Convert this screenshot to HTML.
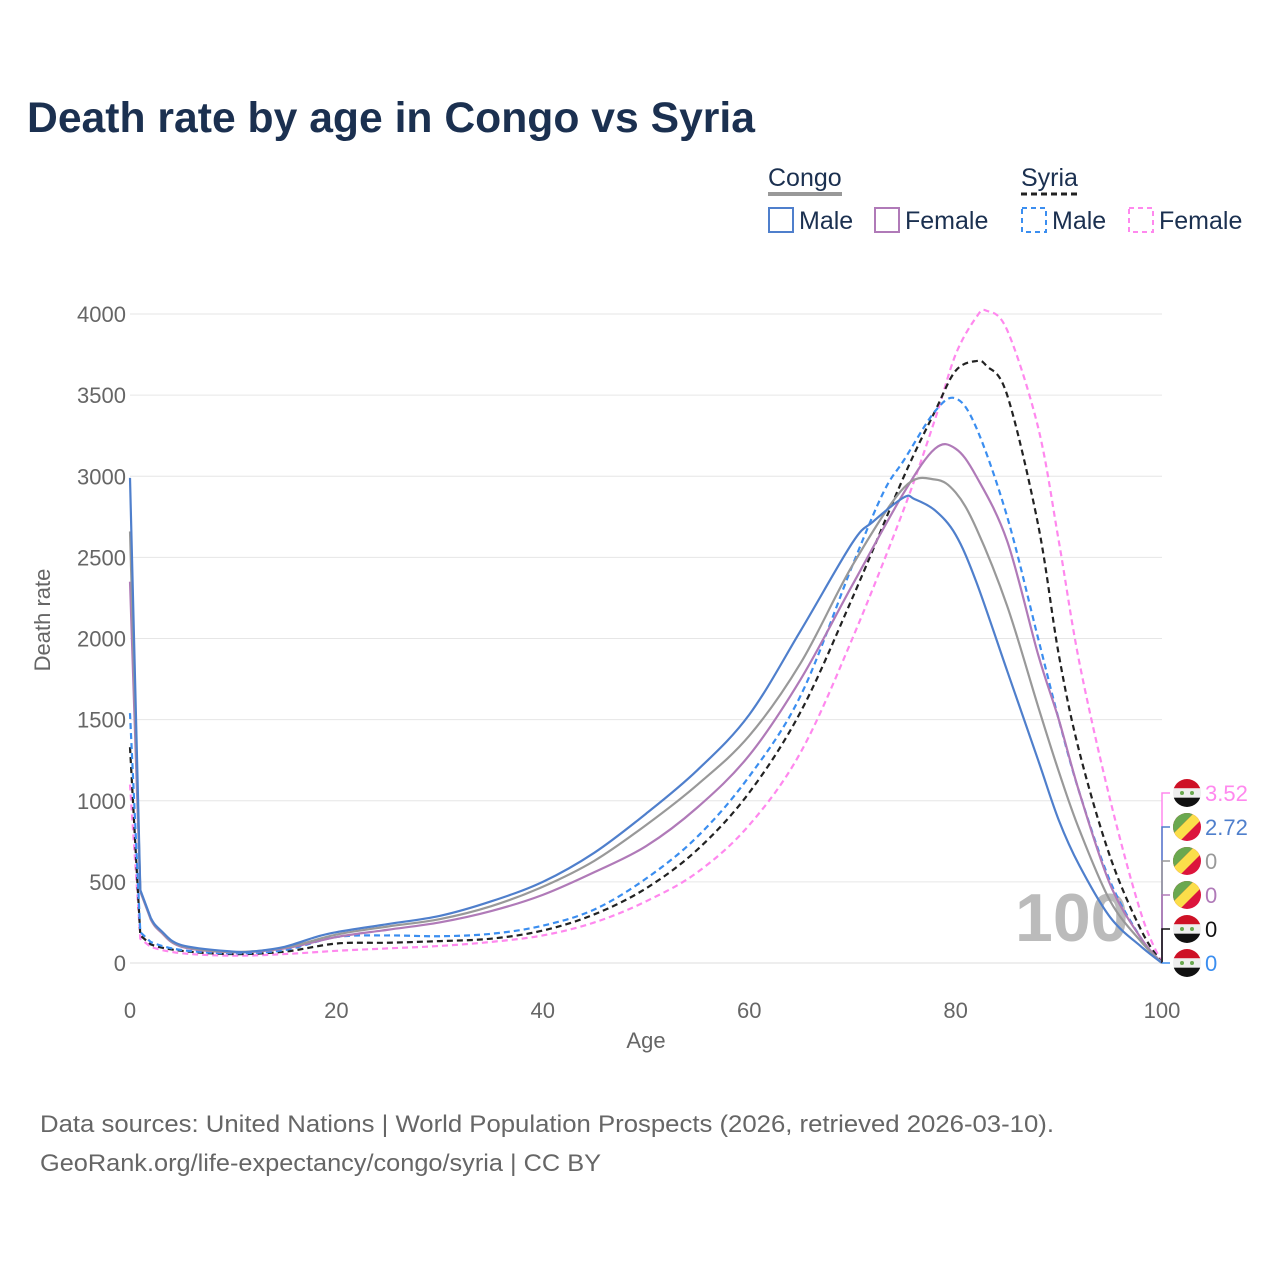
<!DOCTYPE html>
<html><head><meta charset="utf-8">
<style>
body{margin:0;background:#fff;font-family:"Liberation Sans",sans-serif;}
#wrap{position:relative;width:1280px;height:1280px;overflow:hidden;background:#fff}
</style></head>
<body>
<div id="wrap">
<svg id="chart" width="1280" height="1280" xmlns="http://www.w3.org/2000/svg">
<text x="27" y="132" font-size="43" font-weight="bold" fill="#1b3050" textLength="728" lengthAdjust="spacingAndGlyphs">Death rate by age in Congo vs Syria</text>
<g font-size="25" fill="#1b3050">
<text x="768" y="186">Congo</text>
<line x1="768" x2="842" y1="194" y2="194" stroke="#999" stroke-width="4"/>
<text x="1021" y="186">Syria</text>
<line x1="1021" x2="1078" y1="194" y2="194" stroke="#222" stroke-width="3" stroke-dasharray="6,4"/>
<rect x="769" y="208" width="24" height="24" fill="none" stroke="#4f7fcc" stroke-width="2"/>
<text x="799" y="229">Male</text>
<rect x="875" y="208" width="24" height="24" fill="none" stroke="#b07ab8" stroke-width="2"/>
<text x="905" y="229">Female</text>
<rect x="1022" y="208" width="24" height="24" fill="none" stroke="#3b8ef0" stroke-width="2" stroke-dasharray="5,4"/>
<text x="1052" y="229">Male</text>
<rect x="1129" y="208" width="24" height="24" fill="none" stroke="#ff88ee" stroke-width="2" stroke-dasharray="5,4"/>
<text x="1159" y="229">Female</text>
</g>
<g id="grid"></g>
<text x="1015" y="941" font-size="68" font-weight="bold" fill="#bbb">100</text>
<g id="lines"></g>
<g id="labels"></g>
<text x="50" y="620" font-size="22" fill="#666" transform="rotate(-90 50 620)" text-anchor="middle">Death rate</text>
<text x="646" y="1048" font-size="22" fill="#666" text-anchor="middle">Age</text>
<text x="40" y="1132" font-size="24" fill="#666" textLength="1014" lengthAdjust="spacingAndGlyphs">Data sources: United Nations | World Population Prospects (2026, retrieved 2026-03-10).</text>
<text x="40" y="1171" font-size="24" fill="#666" textLength="561" lengthAdjust="spacingAndGlyphs">GeoRank.org/life-expectancy/congo/syria | CC BY</text>
</svg>
</div>
<script>
const yTicks=[0,500,1000,1500,2000,2500,3000,3500,4000];
const xTicks=[0,20,40,60,80,100];
const congoMaleAges=[0,1,2,3,5,10,12,15,18,20,25,30,35,40,45,50,55,60,65,70,72,75,76,78,80,82,85,88,90,92,95,98,100];
const congoMale=[2990,450,280,200,110,70,72,100,160,190,240,290,380,500,680,920,1190,1530,2050,2590,2720,2870,2860,2790,2640,2350,1800,1250,880,600,280,100,0];
const congoTotalAges=[0,1,2,3,5,10,15,20,25,30,35,40,45,50,55,60,65,70,75,78,80,82,85,88,90,92,95,98,100];
const congoTotal=[2660,445,275,195,105,68,95,175,225,270,350,470,630,850,1100,1400,1850,2450,2930,2980,2900,2680,2200,1580,1180,820,380,130,0];
const congoFemaleAges=[0,1,2,3,5,10,15,20,25,30,35,40,45,50,55,60,65,70,75,78,80,82,85,88,90,92,95,98,100];
const congoFemale=[2350,440,270,190,100,66,90,160,205,250,320,420,560,720,960,1280,1750,2330,2900,3170,3170,3000,2600,1900,1500,1050,480,150,0];
const syriaMaleAges=[0,1,2,5,10,15,20,25,30,35,40,45,50,55,60,65,70,73,75,78,80,82,85,88,90,92,95,98,100];
const syriaMale=[1540,190,130,80,60,80,160,170,165,180,230,330,520,780,1150,1650,2450,2900,3100,3400,3480,3300,2750,2000,1500,1050,500,150,0];
const syriaTotalAges=[0,1,2,5,10,15,20,25,30,35,40,45,50,55,60,65,70,75,78,80,82,83,85,88,90,92,95,98,100];
const syriaTotal=[1330,170,115,75,55,70,120,125,135,150,200,300,460,700,1050,1550,2250,3000,3400,3650,3710,3680,3500,2700,1900,1300,650,200,0];
const syriaFemaleAges=[0,1,2,5,10,15,20,25,30,35,40,45,50,55,60,65,70,75,78,80,82,83,85,88,90,92,95,98,100];
const syriaFemale=[1100,150,100,60,45,55,75,90,105,130,170,250,380,560,850,1300,2000,2800,3350,3750,3980,4020,3900,3300,2600,1850,1000,300,0];
const endValues=["3.52","2.72","0","0","0","0"];

const NS="http://www.w3.org/2000/svg";
const X=a=>130+a*10.32;
const Y=v=>963-v*0.16225;
function mk(tag,attrs,parent){const e=document.createElementNS(NS,tag);for(const k in attrs)e.setAttribute(k,attrs[k]);parent.appendChild(e);return e;}
const grid=document.getElementById('grid');
yTicks.forEach(t=>{
  const l=mk('line',{x1:130,x2:1162,y1:Y(t),y2:Y(t),stroke:t===0?'#ddd':'#e6e6e6','stroke-width':1},grid);
  
  
  const tx=mk('text',{x:126,y:Y(t)+8,'font-size':22,fill:'#666','text-anchor':'end'},grid);
  tx.textContent=t;
  
  
});
xTicks.forEach(t=>{
  const tx=mk('text',{x:X(t),y:1018,'font-size':22,fill:'#666','text-anchor':'middle'},grid);
  tx.textContent=t;
  
  
});
function path(ages,vals){
  const p=ages.map((a,i)=>[X(a),Y(vals[i])]);
  let d='M'+p[0][0]+','+p[0][1];
  for(let i=0;i<p.length-1;i++){
    const p0=p[Math.max(0,i-1)],p1=p[i],p2=p[i+1],p3=p[Math.min(p.length-1,i+2)];
    const t=i<2?0:1/6;
    const c1=[p1[0]+(p2[0]-p0[0])*t,p1[1]+(p2[1]-p0[1])*t];
    const c2=[p2[0]-(p3[0]-p1[0])*t,p2[1]-(p3[1]-p1[1])*t];
    d+=' C'+c1[0]+','+c1[1]+' '+c2[0]+','+c2[1]+' '+p2[0]+','+p2[1];
  }
  return d;
}
const lines=document.getElementById('lines');
const series=[
 [syriaFemaleAges,syriaFemale,'#ff88ee','6,4','line-syria-female'],
 [syriaTotalAges,syriaTotal,'#222','6,4','line-syria-total'],
 [syriaMaleAges,syriaMale,'#3b8ef0','6,4','line-syria-male'],
 [congoFemaleAges,congoFemale,'#b07ab8','','line-congo-female'],
 [congoTotalAges,congoTotal,'#999','','line-congo-total'],
 [congoMaleAges,congoMale,'#4f7fcc','','line-congo-male']];
series.forEach(s=>{
  const e=mk('path',{d:path(s[0],s[1]),fill:'none',stroke:s[2],'stroke-width':2.2,'stroke-dasharray':s[3]},lines);
  
  
});
const labels=document.getElementById('labels');
const lab=[['#ff88ee','syria'],['#4f7fcc','congo'],['#999','congo'],['#b07ab8','congo'],['#111','syria'],['#3b8ef0','syria']];
lab.forEach((l,i)=>{
  const cy=793+i*34;
  mk('path',{d:`M1162,963 L1162,${cy} L1170,${cy}`,fill:'none',stroke:l[0],'stroke-width':1.5},labels);
  const g=mk('g',{},labels);
  
  
  const cx=1187,r=14;
  const cid='c'+i;
  const cp=mk('clipPath',{id:cid},g);mk('circle',{cx:cx,cy:cy,r:r},cp);
  const gg=mk('g',{'clip-path':`url(#${cid})`},g);
  if(l[1]==='syria'){
    mk('rect',{x:cx-r,y:cy-r,width:2*r,height:r*2/3,fill:'#ce1126'},gg);
    mk('rect',{x:cx-r,y:cy-r/3,width:2*r,height:r*2/3,fill:'#eee'},gg);
    mk('rect',{x:cx-r,y:cy+r/3,width:2*r,height:r*2/3,fill:'#111'},gg);
    mk('circle',{cx:cx-5,cy:cy,r:2,fill:'#6aa84f'},gg);mk('circle',{cx:cx+5,cy:cy,r:2,fill:'#6aa84f'},gg);
  } else {
    mk('rect',{x:cx-r,y:cy-r,width:2*r,height:2*r,fill:'#dc143c'},gg);
    mk('polygon',{points:`${cx-r},${cy-r} ${cx+r*0.5},${cy-r} ${cx-r},${cy+r*0.5}`,fill:'#6aa84f'},gg);
    mk('polygon',{points:`${cx+r*0.5},${cy-r} ${cx+r},${cy-r} ${cx+r},${cy-r*0.5} ${cx-r*0.5},${cy+r} ${cx-r},${cy+r} ${cx-r},${cy+r*0.5}`,fill:'#fbde4a'},gg);
  }
  const t=mk('text',{x:1205,y:cy+8,'font-size':22,fill:l[0]},labels);
  t.textContent=endValues[i];
  
  
});
</script>
</body></html>
